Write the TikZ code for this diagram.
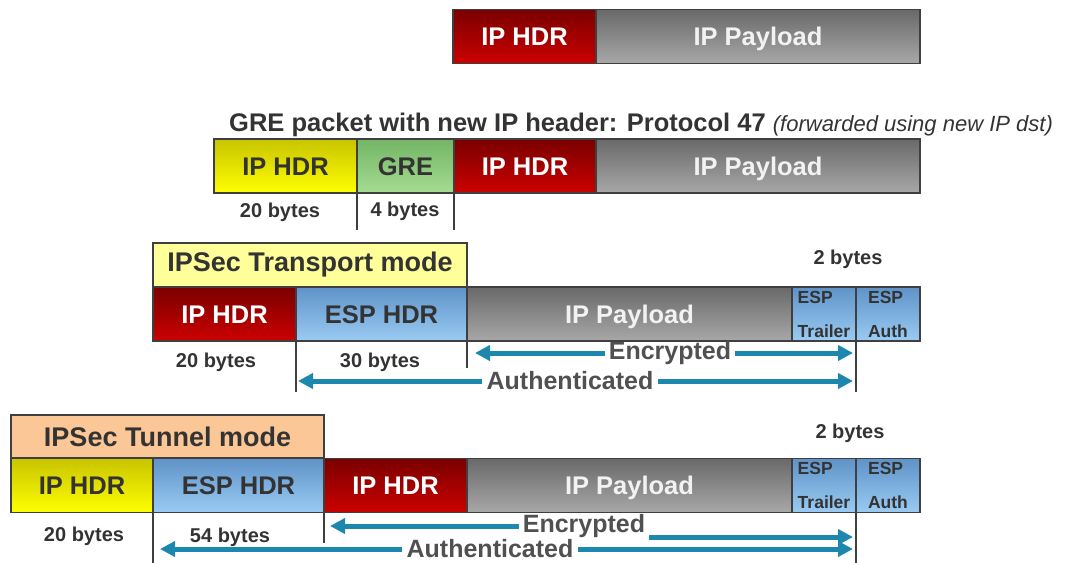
\documentclass[tikz,border=0pt]{standalone}
\usepackage{fontspec}
\setmainfont{Liberation Sans}
\usetikzlibrary{arrows.meta}
\definecolor{boxline}{HTML}{3F3F3F}
\definecolor{redtop}{HTML}{7A0000}
\definecolor{redbot}{HTML}{CC0000}
\definecolor{greytop}{HTML}{696969}
\definecolor{greybot}{HTML}{A8A8A8}
\definecolor{yeltop}{HTML}{C8C400}
\definecolor{yelbot}{HTML}{FFFF00}
\definecolor{greentop}{HTML}{73B565}
\definecolor{greenbot}{HTML}{A6DC92}
\definecolor{bluetop}{HTML}{5F93C8}
\definecolor{bluebot}{HTML}{9ACBF3}
\definecolor{transfill}{HTML}{FFFF99}
\definecolor{tunfill}{HTML}{FBC796}
\definecolor{darktxt}{HTML}{333333}
\definecolor{paytxt}{HTML}{F2F2F2}
\definecolor{spantxt}{HTML}{505050}
\definecolor{flowblue}{HTML}{1D88AE}
\tikzset{
  pkt/.style={draw=boxline,line width=1.2pt,inner sep=0pt,outer sep=0pt,anchor=west,
    minimum height=54pt,font=\fontsize{25.5}{30}\selectfont\bfseries},
  lbl/.style={text height=18.5pt,text depth=0pt},
  iphdr/.style={pkt,lbl,top color=redtop,bottom color=redbot,text=white,minimum width=143pt},
  payload/.style={pkt,lbl,top color=greytop,bottom color=greybot,text=paytxt},
  newhdr/.style={pkt,lbl,top color=yeltop,bottom color=yelbot,text=darktxt,minimum width=143pt},
  grebox/.style={pkt,lbl,top color=greentop,bottom color=greenbot,text=darktxt},
  espbox/.style={pkt,top color=bluetop,bottom color=bluebot,text=darktxt},
  esphdr/.style={espbox,lbl,minimum width=171pt},
  esptail/.style={espbox,minimum width=64pt,align=left,
    font=\fontsize{17.5}{34}\selectfont\bfseries},
  modebox/.style={draw=boxline,line width=1.2pt,inner sep=0pt,outer sep=0pt,
    anchor=south west,minimum height=44pt,text=darktxt,
    font=\fontsize{27}{30}\selectfont\bfseries},
  bytes/.style={font=\fontsize{20}{24}\selectfont\bfseries,text=darktxt,inner sep=1pt},
  span/.style={font=\fontsize{25}{30}\selectfont\bfseries,text=spantxt,inner sep=4pt},
  cut/.style={draw=boxline,line width=1.6pt},
  flow/.style={draw=flowblue,line width=5pt,-{Triangle[length=15pt,width=15pt]}}
}
\begin{document}
\begin{tikzpicture}[x=1pt,y=-1pt]
  \useasboundingbox (0,0) rectangle (1073,562);
  % plain IP packet
  \node[iphdr] (ahdr) at (453,36.5) {IP HDR};
  \node[payload,minimum width=324pt] (apay) at (ahdr.east) {IP Payload};

  % GRE
  \node[anchor=base west,inner sep=0pt,text=darktxt] (gtitle) at (229,131)
    {\fontsize{25.5}{30}\selectfont\bfseries GRE packet with new IP header: Protocol 47
     \fontsize{22}{26}\selectfont\mdseries\itshape(forwarded using new IP dst)};
  \node[newhdr] (ghdr) at (214,166) {IP HDR};
  \node[grebox,minimum width=97pt] (gre) at (ghdr.east) {GRE};
  \node[iphdr,minimum width=142pt] (gin) at (gre.east) {IP HDR};
  \node[payload,minimum width=324pt] (gpay) at (gin.east) {IP Payload};
  \node[bytes] (g20) at (280,212) {20 bytes};
  \node[bytes] (g4) at (405,211) {4 bytes};
  \draw[cut] (gre.south west) -- ++(0,37);
  \draw[cut] (gre.south east) -- ++(0,37);

  % IPSec transport mode
  \node[modebox,fill=transfill,minimum width=314pt] (tmode) at (153,287) {IPSec Transport mode};
  \node[iphdr] (thdr) at (153,314) {IP HDR};
  \node[esphdr] (tesp) at (thdr.east) {ESP HDR};
  \node[payload,minimum width=325pt] (tpay) at (tesp.east) {IP Payload};
  \node[esptail] (ttrl) at (tpay.east) {ESP\\Trailer};
  \node[esptail] (tauth) at (ttrl.east) {ESP\\Auth};
  \node[bytes] (t2) at (848,259) {2 bytes};
  \node[bytes] (t20) at (216,362) {20 bytes};
  \node[bytes] (t30) at (380,362) {30 bytes};
  \draw[cut] (tesp.south west) -- ++(0,51);
  \draw[cut] (tpay.south west) -- ++(0,27);
  \draw[cut] (tauth.south west) -- ++(0,51);
  \node[span] (tenc) at (670,353) {Encrypted};
  \draw[flow] (tenc.west) -- ([xshift=8pt]tenc.west -| tpay.south west);
  \draw[flow] (tenc.east) -- ([xshift=-3pt]tenc.east -| tauth.south west);
  \node[span] (tath) at (570,381) {Authenticated};
  \draw[flow] (tath.west) -- ([xshift=2pt]tath.west -| tesp.south west);
  \draw[flow] (tath.east) -- ([xshift=-3pt]tath.east -| tauth.south west);

  % IPSec tunnel mode
  \node[modebox,fill=tunfill,minimum width=313pt,minimum height=43pt] (nmode) at (11,458) {IPSec Tunnel mode};
  \node[newhdr,minimum width=142pt] (nhdr) at (11,485.5) {IP HDR};
  \node[esphdr] (nesp) at (nhdr.east) {ESP HDR};
  \node[iphdr] (nin) at (nesp.east) {IP HDR};
  \node[payload,minimum width=325pt] (npay) at (nin.east) {IP Payload};
  \node[esptail] (ntrl) at (npay.east) {ESP\\Trailer};
  \node[esptail] (nauth) at (ntrl.east) {ESP\\Auth};
  \node[bytes] (n2) at (850,433) {2 bytes};
  \node[bytes] (n20) at (84,536) {20 bytes};
  \node[bytes] (n54) at (230,537) {54 bytes};
  \draw[cut] (nesp.south west) -- ++(0,50);
  \draw[cut] (nin.south west) -- ++(0,30);
  \draw[cut] (nauth.south west) -- ++(0,50);
  \node[span] (nenc) at (584,526) {Encrypted};
  \draw[flow] (nenc.west) -- ([xshift=6pt]nenc.west -| nin.south west);
  \draw[flow] ([yshift=-11pt]nenc.east) -- ([xshift=-3pt,yshift=-11pt]nenc.east -| nauth.south west);
  \node[span,inner ysep=1pt] (nath) at (490,549) {Authenticated};
  \draw[flow] (nath.west) -- ([xshift=7pt]nath.west -| nesp.south west);
  \draw[flow] (nath.east) -- ([xshift=-3pt]nath.east -| nauth.south west);
\end{tikzpicture}
\end{document}
